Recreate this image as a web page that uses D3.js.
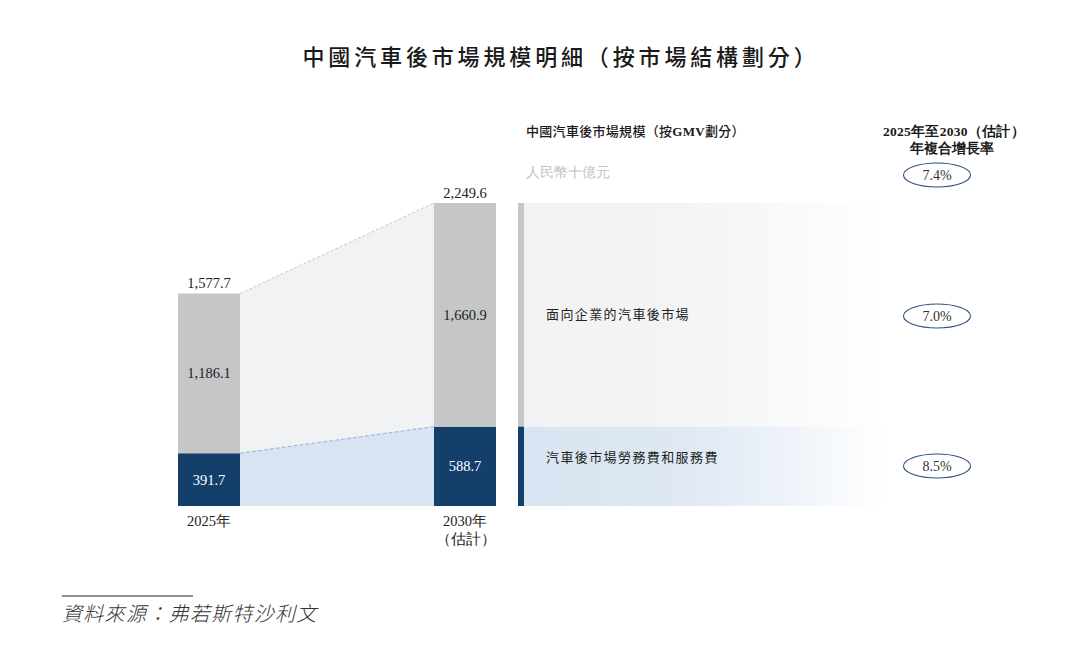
<!DOCTYPE html>
<html><head><meta charset="utf-8">
<script src="https://cdn.jsdelivr.net/npm/d3@7"></script>
<style>
html,body{margin:0;padding:0;background:#fff;}
svg{display:block;}
</style></head>
<body>
<svg id="c" width="1070" height="663"></svg>
<script>
const years = ["2025年", "2030年"];
const yearSub = ["", "（估計）"];
const segments = ["汽車後市場勞務費和服務費", "面向企業的汽車後市場"];
const laborValues = [391.7, 588.7];
const enterpriseValues = [1186.1, 1660.9];
const totals = [1577.7, 2249.6];
const cagrTotal = "7.4%";
const cagrSegments = ["8.5%", "7.0%"];

const svg = d3.select("#c");
const serif = "'Liberation Serif','Times New Roman',serif";
const cjk = "'Noto Sans CJK TC','Noto Sans CJK SC',sans-serif";
const gray = "#c5c6c8", navy = "#143f6b";
const lightGray = "#f1f2f4", lightBlue = "#d9e4f2";

const bw = 62;
const x = d3.scalePoint().domain(years).range([178, 434]);
const xPos = d => x(d);
const y = d3.scaleLinear().domain([0, 2249.6]).range([506, 203]);

// title
svg.append("text").attr("x", 561).attr("y", 65).attr("text-anchor", "middle")
  .attr("font-family", cjk).attr("font-size", 22).attr("font-weight", 500)
  .attr("letter-spacing", 3.85).attr("fill", "#1a1a1a")
  .text("中國汽車後市場規模明細（按市場結構劃分）");

// connector areas
const x0 = xPos(years[0]) + bw, x1 = xPos(years[1]);
const stackTop = laborValues.map((v, i) => v + enterpriseValues[i]);
svg.append("path").attr("fill", lightGray)
  .attr("d", `M${x0},${y(stackTop[0])}L${x1},${y(stackTop[1])}L${x1},${y(laborValues[1])}L${x0},${y(laborValues[0])}Z`);
svg.append("path").attr("fill", lightBlue)
  .attr("d", `M${x0},${y(laborValues[0])}L${x1},${y(laborValues[1])}L${x1},${y(0)}L${x0},${y(0)}Z`);
svg.append("line").attr("x1", x0).attr("y1", y(stackTop[0])).attr("x2", x1).attr("y2", y(stackTop[1]))
  .attr("stroke", "#c9cacc").attr("stroke-width", 1).attr("stroke-dasharray", "3,2");
svg.append("line").attr("x1", x0).attr("y1", y(laborValues[0])).attr("x2", x1).attr("y2", y(laborValues[1]))
  .attr("stroke", "#9dbbe0").attr("stroke-width", 1.2).attr("stroke-dasharray", "4,2");

// bars
const fmt = d3.format(",.1f");
years.forEach((yr, i) => {
  const bx = xPos(yr);
  svg.append("rect").attr("x", bx).attr("width", bw)
    .attr("y", y(laborValues[i])).attr("height", y(0) - y(laborValues[i])).attr("fill", navy);
  svg.append("rect").attr("x", bx).attr("width", bw)
    .attr("y", y(stackTop[i])).attr("height", y(laborValues[i]) - y(stackTop[i])).attr("fill", gray);
  svg.append("text").attr("x", bx + bw / 2).attr("y", (y(0) + y(laborValues[i])) / 2 + 5)
    .attr("text-anchor", "middle").attr("font-family", serif).attr("font-size", 14.5).attr("fill", "#fff")
    .text(fmt(laborValues[i]));
  svg.append("text").attr("x", bx + bw / 2).attr("y", (y(laborValues[i]) + y(stackTop[i])) / 2 + 5)
    .attr("text-anchor", "middle").attr("font-family", serif).attr("font-size", 14.5).attr("fill", "#222")
    .text(fmt(enterpriseValues[i]));
  svg.append("text").attr("x", bx + bw / 2).attr("y", y(totals[i]) - 5)
    .attr("text-anchor", "middle").attr("font-family", serif).attr("font-size", 14.5).attr("fill", "#222")
    .text(fmt(totals[i]));
  svg.append("text").attr("x", bx + bw / 2).attr("y", 526)
    .attr("text-anchor", "middle").attr("font-family", serif).attr("font-size", 14.5).attr("fill", "#222")
    .text(yr);
  if (yearSub[i]) svg.append("text").attr("x", bx + bw / 2 + 1).attr("y", 544)
    .attr("text-anchor", "middle").attr("font-family", serif).attr("font-size", 14.5).attr("fill", "#222")
    .text(yearSub[i]);
});

// right panel
const defs = svg.append("defs");
function grad(id, c) {
  const g = defs.append("linearGradient").attr("id", id).attr("x1", "0").attr("x2", "1").attr("y1", "0").attr("y2", "0");
  g.append("stop").attr("offset", "0").attr("stop-color", c);
  g.append("stop").attr("offset", "0.45").attr("stop-color", c).attr("stop-opacity", 0.85);
  g.append("stop").attr("offset", "1").attr("stop-color", "#fff");
}
grad("gG", lightGray); grad("gB", lightBlue);
const px0 = 518, px1 = 885;
svg.append("rect").attr("x", px0).attr("y", y(2249.6)).attr("width", px1 - px0)
  .attr("height", y(laborValues[1]) - y(2249.6)).attr("fill", "url(#gG)");
svg.append("rect").attr("x", px0).attr("y", y(laborValues[1])).attr("width", px1 - px0)
  .attr("height", y(0) - y(laborValues[1])).attr("fill", "url(#gB)");
svg.append("rect").attr("x", px0).attr("y", y(2249.6)).attr("width", 6)
  .attr("height", y(laborValues[1]) - y(2249.6)).attr("fill", gray);
svg.append("rect").attr("x", px0).attr("y", y(laborValues[1])).attr("width", 6)
  .attr("height", y(0) - y(laborValues[1])).attr("fill", navy);

svg.append("text").attr("x", 546).attr("y", 319).attr("font-family", cjk).attr("font-size", 13)
  .attr("fill", "#222").attr("letter-spacing", 1.4).text(segments[1]);
svg.append("text").attr("x", 546).attr("y", 462).attr("font-family", cjk).attr("font-size", 13)
  .attr("fill", "#222").attr("letter-spacing", 1.4).text(segments[0]);

// headers
svg.append("text").attr("x", 526).attr("y", 136).attr("font-family", cjk).attr("font-size", 13)
  .attr("font-weight", 500).attr("fill", "#1a1a1a").attr("letter-spacing", 0.3)
  .html('中國汽車後市場規模（按<tspan font-family="' + serif + '" font-weight="bold">GMV</tspan>劃分）');
svg.append("text").attr("x", 526).attr("y", 177).attr("font-family", serif).attr("font-size", 14)
  .attr("fill", "#c0c3c7").text("人民幣十億元");
svg.append("text").attr("x", 954).attr("y", 136).attr("text-anchor", "middle").attr("font-family", serif)
  .attr("font-size", 13.5).attr("font-weight", "bold").attr("fill", "#1a1a1a").attr("letter-spacing", 0.3)
  .text("2025年至2030（估計）");
svg.append("text").attr("x", 952).attr("y", 153).attr("text-anchor", "middle").attr("font-family", serif)
  .attr("font-size", 13.5).attr("font-weight", "bold").attr("fill", "#1a1a1a").text("年複合增長率");

// CAGR ellipses
const cagrs = [cagrTotal, cagrSegments[1], cagrSegments[0]];
const cy = [175, 316, 466];
cagrs.forEach((c, i) => {
  svg.append("ellipse").attr("cx", 937).attr("cy", cy[i]).attr("rx", 33.5).attr("ry", 12)
    .attr("fill", "#fff").attr("stroke", "#2e4f82").attr("stroke-width", 1.1);
  svg.append("text").attr("x", 937).attr("y", cy[i] + 5).attr("text-anchor", "middle")
    .attr("font-family", serif).attr("font-size", 14).attr("fill", "#333").text(c);
});

// source
svg.append("line").attr("x1", 62).attr("x2", 193).attr("y1", 596).attr("y2", 596)
  .attr("stroke", "#222").attr("stroke-width", 1);
svg.append("text").attr("x", 62).attr("y", 621).attr("font-family", cjk).attr("font-size", 20)
  .attr("font-style", "italic").attr("font-weight", 300).attr("fill", "#333").attr("letter-spacing", 1.3)
  .text("資料來源：弗若斯特沙利文");
</script>
</body></html>
